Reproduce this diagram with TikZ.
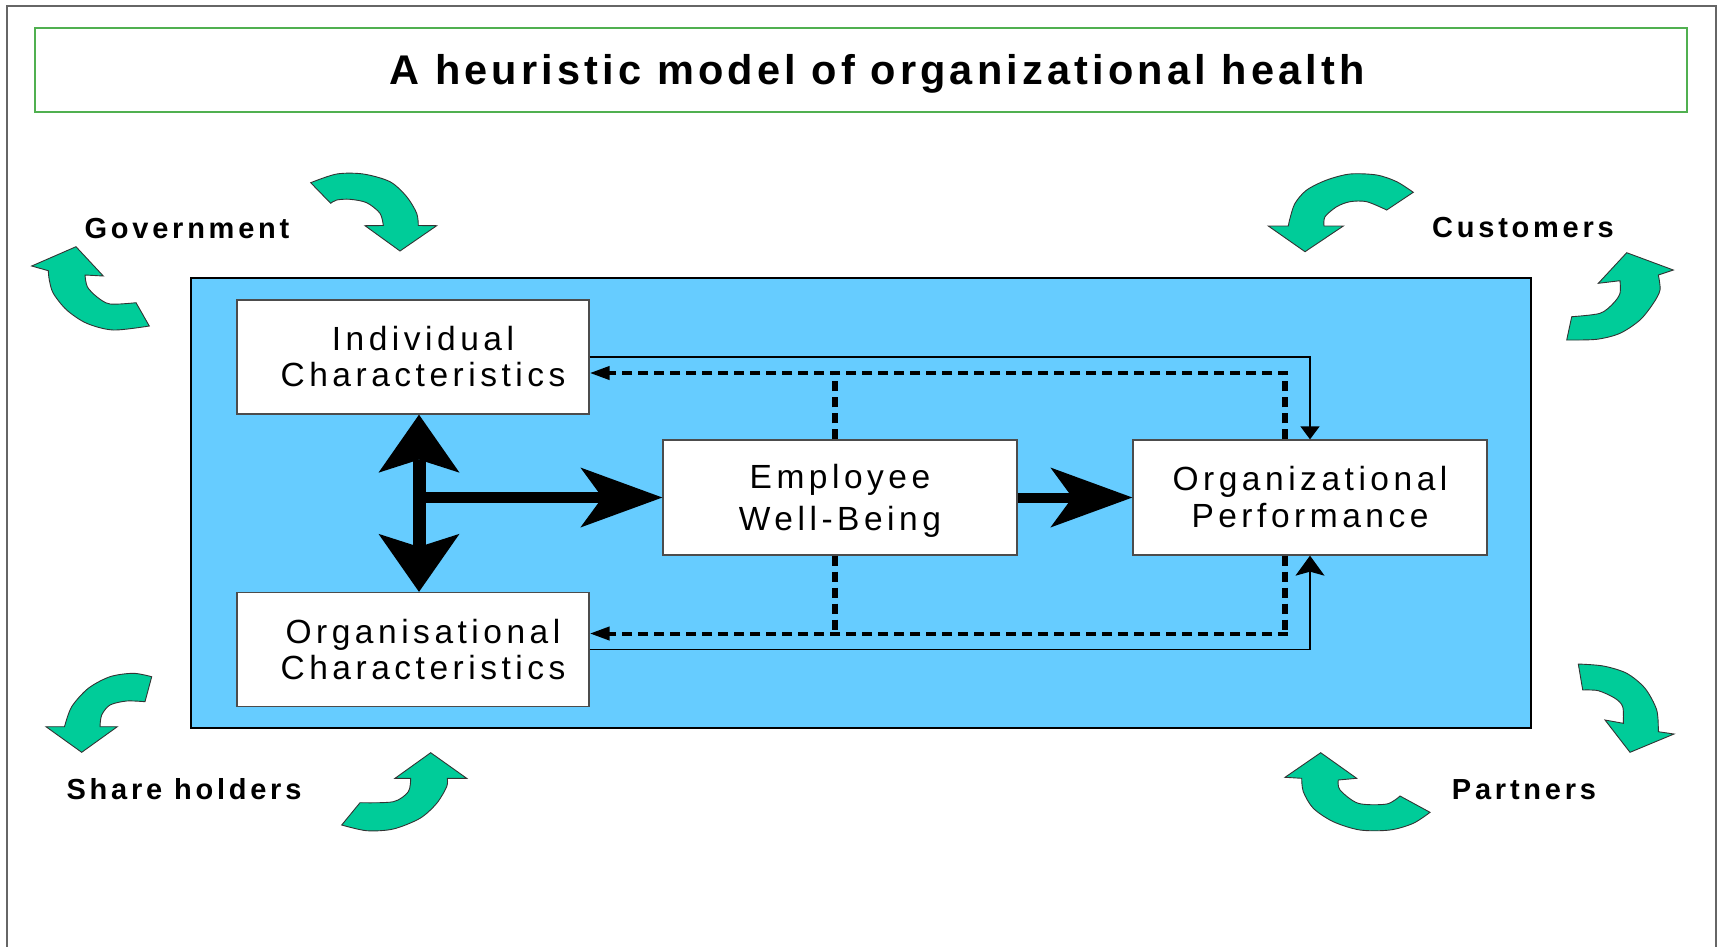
\documentclass[tikz,border=0pt]{standalone}
\usepackage{fontspec}
\setmainfont{Liberation Sans}
\newfontfamily\boxfont[LetterSpace=13.5]{Liberation Sans}
\newfontfamily\labelfont[LetterSpace=13]{Liberation Sans}
\newfontfamily\titlefont[LetterSpace=10]{Liberation Sans}
\usetikzlibrary{arrows.meta,positioning}
\definecolor{panelblue}{RGB}{102,204,255}
\definecolor{cyclegreen}{RGB}{0,204,153}
\definecolor{titlegreen}{RGB}{80,176,80}
\newcommand\nudge{\hspace*{20pt}}

\begin{document}
\begin{tikzpicture}[x=1pt,y=-1pt]
  %% ORGANIZATIONAL HEALTH

  \useasboundingbox (0,0) rectangle (1721,946);
  \tikzstyle{factor}=[draw=black!70,line width=1.3pt,fill=white,inner sep=0pt,
    minimum width=352pt,minimum height=114pt,align=center,
    font=\boxfont\fontsize{33.5}{36}\selectfont]
  \tikzstyle{titlebox}=[draw=titlegreen,line width=1.5pt,inner sep=0pt,
    minimum width=1652pt,minimum height=84pt]
  \tikzstyle{titletext}=[inner sep=0pt,text height=29pt,text depth=0pt,
    font=\titlefont\bfseries\fontsize{41.5}{44}\selectfont]
  \tikzstyle{stakeholder}=[anchor=base,inner sep=0pt,
    font=\labelfont\bfseries\fontsize{29}{32}\selectfont]
  \tikzstyle{turnarrow}=[fill=cyclegreen,draw=black!80,line width=0.9pt]
  \tikzstyle{feedback}=[line width=4pt,dash pattern=on 10pt off 6pt]
  \tikzstyle{feedback up}=[line width=6pt,dash pattern=on 10pt off 6pt]
  \tikzstyle{link}=[line width=1.3pt]
  \tikzstyle{influence}=[-{Stealth[length=82pt,width=60pt,inset=22pt,line width=0pt]}]

  % frame and title
  \draw[line width=1.5pt,black!60] (7,952) -- (7,6) -- (1716,6) -- (1716,952);
  \node[titlebox] (title) at (861,70) {};
  \node[titletext] (titletext) at ([xshift=16pt]title.center)
    {A heuristic model of organizational health};

  % the organization
  \node[draw=black,line width=1.2pt,fill=panelblue,minimum width=1340pt,
    minimum height=450pt] (panel) at (861,503) {};
  \node[factor] (indiv) at (413,357) {\nudge Individual\\\nudge Characteristics};
  \node[factor] (orgchar) at (413,649.5) {\nudge Organisational\\\nudge Characteristics};
  \node[factor,minimum width=354pt,minimum height=115pt,text depth=0pt,
    font=\boxfont\fontsize{33.5}{42}\selectfont] (wellbeing)
    at (840,497.5) {Employee\\Well-Being};
  \node[factor,minimum width=354pt,minimum height=115pt,
    font=\boxfont\fontsize{33.5}{37}\selectfont] (perf)
    at (1310,497.5) {Organizational\\Performance};

  % thick arrows
  \coordinate (vaxis) at ([xshift=6pt]indiv.south);
  \draw[line width=13pt,
    {Stealth[length=58pt,width=81pt,inset=13pt,line width=0pt]}-{Stealth[length=58pt,width=81pt,inset=13pt,line width=0pt]}]
    (vaxis) -- (vaxis |- orgchar.north);
  \draw[influence,line width=10.7pt] (vaxis |- wellbeing.west) -- (wellbeing.west);
  \draw[influence,line width=10pt] (wellbeing.east) -- (perf.west);

  % thin links
  \draw[link,-{Triangle[length=13pt,width=19pt]}] (indiv.east) -| (perf.north);
  \draw[link,-{Stealth[length=20pt,width=29pt,inset=4pt]}] (orgchar.east) -| (perf.south);

  % feedback
  \coordinate (fbtop) at ([yshift=-16pt]indiv.east);
  \coordinate (fbbot) at ([yshift=16pt]orgchar.east);
  \coordinate (wbtop) at ([xshift=-5pt]wellbeing.north);
  \coordinate (wbbot) at ([xshift=-5pt]wellbeing.south);
  \coordinate (pftop) at ([xshift=-25pt]perf.north);
  \coordinate (pfbot) at ([xshift=-25pt]perf.south);
  \draw[feedback up] (pftop) -- (pftop |- fbtop);
  \draw[feedback,-{Triangle[length=20pt,width=13pt]}] ([xshift=3pt]pftop |- fbtop) -- (fbtop);
  \draw[feedback up] (wbtop) -- (wbtop |- fbtop);
  \draw[feedback up] (pfbot) -- (pfbot |- fbbot);
  \draw[feedback,-{Triangle[length=20pt,width=13pt]}] ([xshift=3pt]pfbot |- fbbot) -- (fbbot);
  \draw[feedback up] (wbbot) -- (wbbot |- fbbot);

  % stakeholders
  \node[stakeholder] (gov) at (187,238.3) {Government};
  \node[stakeholder] (cust) at (1523,237.3) {Customers};
  \node[stakeholder] (share) at (184,799.3) {Share holders};
  \node[stakeholder] (partner) at (1524,799.3) {Partners};

  % turning arrows, government
  \filldraw[turnarrow] plot[smooth] coordinates {(310.7,182.7) (336.7,174) (363.3,174)
    (390,181.7) (406.7,196.7) (416.7,213.3) (418.3,225.5)}
    -- (436.7,225.7) -- (400,251) -- (365,225.7)
    -- plot[smooth] coordinates {(383.3,225.5) (380,213.3) (366.7,202.7) (350,199.3)
    (336.7,200) (330.7,203.3)} -- cycle;
  \filldraw[turnarrow] plot[smooth] coordinates {(149.3,326) (113.3,330) (86.7,323.3)
    (66.7,310) (53.3,293.3) (49.3,280) (48.3,270.7)}
    -- (31.7,266) -- (76,246.7) -- (103.3,276)
    -- plot[smooth] coordinates {(85,275) (87.3,286.7) (96.7,296.7) (110,304)
    (136,302.7)} -- cycle;
  % customers
  \filldraw[turnarrow] plot[smooth] coordinates {(1413.3,192.3) (1396.7,181.7)
    (1376.7,175) (1350,174) (1326.7,180) (1306.7,190) (1295,203.3) (1290,218.3)
    (1288.3,226)}
    -- (1268.3,226) -- (1305,251.7) -- (1343.3,226)
    -- plot[smooth] coordinates {(1324,226) (1325,216.7) (1336.7,206.7) (1350,201.7)
    (1366.7,201.7) (1386.7,210)} -- cycle;
  \filldraw[turnarrow] plot[smooth] coordinates {(1566.7,340) (1596.7,339.3)
    (1620,333.3) (1640,320) (1653.3,303.3) (1660,290) (1658.3,275)}
    -- (1673.3,270) -- (1626.7,252.7) -- (1598.3,283.3)
    -- plot[smooth] coordinates {(1620,280.7) (1620,293.3) (1613.3,303.3)
    (1600,313.3) (1571.7,316.7)} -- cycle;
  % share holders
  \filldraw[turnarrow] plot[smooth] coordinates {(151.7,676.7) (133.3,673.3)
    (110,676.7) (88.3,688.3) (71.7,706.7) (64.5,726.7)}
    -- (46,726.7) -- (81.7,752.3) -- (117.3,726.7)
    -- plot[smooth] coordinates {(100,726.7) (101.7,715) (110,705) (126.7,701)
    (145,701.7)} -- cycle;
  \filldraw[turnarrow] plot[smooth] coordinates {(341.7,825) (366.7,830.7)
    (393.3,829) (420,818.3) (436.7,803.3) (446.7,786.7) (447.3,778.3)}
    -- (466.7,778.3) -- (430.7,752.7) -- (395,778.3)
    -- plot[smooth] coordinates {(410.7,778.3) (408.3,791.7) (393.3,801.7)
    (360,802.7)} -- cycle;
  % partners
  \filldraw[turnarrow] plot[smooth] coordinates {(1578.3,664) (1603.3,666)
    (1626.7,673.3) (1645,688.3) (1656.7,710) (1658.3,731.7)}
    -- (1674,734) -- (1630,752.3) -- (1605,720)
    -- plot[smooth] coordinates {(1623.3,723.3) (1622.7,706.7) (1615,698.3)
    (1598.3,690.7) (1582.7,690)} -- cycle;
  \filldraw[turnarrow] plot[smooth] coordinates {(1430,812.3) (1413.3,823.3)
    (1390,830) (1360,830) (1333.3,821.7) (1313.3,808.3) (1303.3,791.7)
    (1301.7,778.3)}
    -- (1285,777.3) -- (1320.7,752.7) -- (1356.7,778.3)
    -- plot[smooth] coordinates {(1338.3,780) (1340,790) (1358.3,803.3)
    (1386.7,804) (1400,796)} -- cycle;
\end{tikzpicture}
\end{document}
